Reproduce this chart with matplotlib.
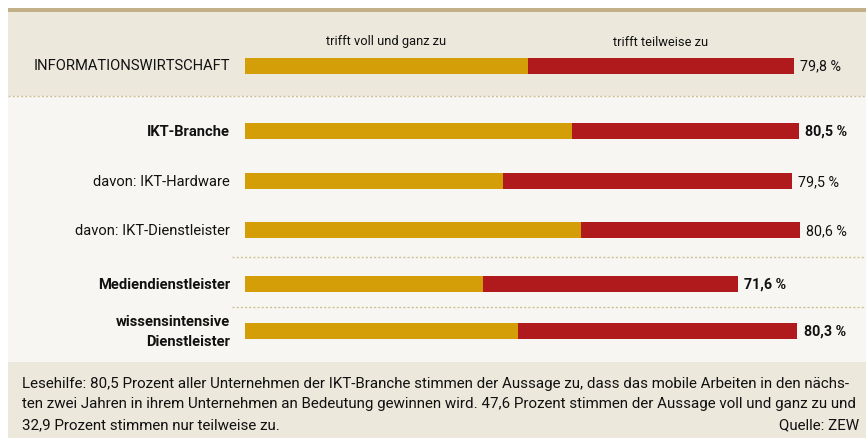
import matplotlib
matplotlib.use("Agg")
import matplotlib.pyplot as plt
from matplotlib.patches import Rectangle

plt.rcParams["font.family"] = ["Roboto", "DejaVu Sans"]

# data
CATEGORIES = [
    "INFORMATIONSWIRTSCHAFT",
    "IKT-Branche",
    "davon: IKT-Hardware",
    "davon: IKT-Dienstleister",
    "Mediendienstleister",
    "wissensintensive\nDienstleister",
]
VOLL = [41.1, 47.6, 37.5, 48.8, 34.6, 39.7]
TOTAL = [79.8, 80.5, 79.5, 80.6, 71.6, 80.3]
TEILWEISE = [round(t - v, 1) for t, v in zip(TOTAL, VOLL)]
WEIGHTS = ["normal", "bold", "normal", "normal", "bold", "bold"]
SERIES = ["trifft voll und ganz zu", "trifft teilweise zu"]
FOOTER = [
    "Lesehilfe: 80,5 Prozent aller Unternehmen der IKT-Branche stimmen der Aussage zu, dass das mobile Arbeiten in den nächs-",
    "ten zwei Jahren in ihrem Unternehmen an Bedeutung gewinnen wird. 47,6 Prozent stimmen der Aussage voll und ganz zu und",
    "32,9 Prozent stimmen nur teilweise zu.",
]
SOURCE = "Quelle: ZEW"

# layout (pixels)
W, H = 866, 439
ROW_Y = [66.5, 132, 182, 231, 285, 332]
BAR_H = 16
BAR_X0 = 245
PX_PER_PCT = 6.88

YELLOW = "#D49E09"
RED = "#B01A1C"
TAN = "#C2B188"
PANEL = "#ECE8DC"
LIGHT = "#F7F6F2"
DOTS = "#CFBF96"
TEXT = "#111111"

fig = plt.figure(figsize=(W / 100, H / 100), dpi=100)
fig.patch.set_facecolor("white")

bg = fig.add_axes([0, 0, 1, 1])
bg.set_xlim(0, W)
bg.set_ylim(H, 0)
bg.axis("off")

# panels
bg.add_patch(Rectangle((8, 13), W, 84, color=PANEL, lw=0))
bg.add_patch(Rectangle((8, 97), W, 266, color=LIGHT, lw=0))
bg.add_patch(Rectangle((8, 363), W, 80, color=PANEL, lw=0))
bg.add_patch(Rectangle((8, 9), W, 4, color=TAN, lw=0))

# dotted separators
bg.plot([8, W], [97, 97], color=DOTS, lw=1, ls=(0, (1.5, 1.5)))
bg.plot([232, W], [257.5, 257.5], color=DOTS, lw=1, ls=(0, (1.5, 1.5)))
bg.plot([232, W], [308, 308], color=DOTS, lw=1, ls=(0, (1.5, 1.5)))

# bars
ax = fig.add_axes([BAR_X0 / W, 0, (W - BAR_X0) / W, 1])
ax.set_xlim(0, (W - BAR_X0) / PX_PER_PCT)
ax.set_ylim(H, 0)
ax.axis("off")
ax.patch.set_alpha(0)

ax.barh(ROW_Y, VOLL, height=BAR_H, color=YELLOW, lw=0)
ax.barh(ROW_Y, TEILWEISE, left=VOLL, height=BAR_H, color=RED, lw=0)

for y, cat, tot, w in zip(ROW_Y, CATEGORIES, TOTAL, WEIGHTS):
    ax.text(tot + 0.9, y, f"{tot:.1f} %".replace(".", ","), ha="left", va="center",
            fontsize=10.3, fontweight=w, color=TEXT)
    bg.text(230, y, cat, ha="right", va="center", fontsize=10.6, fontweight=w,
            color=TEXT, linespacing=1.55)

# series headers above first bar
ax.text(VOLL[0] / 2, 42, SERIES[0], ha="center", va="center", fontsize=9.3, color=TEXT)
ax.text(VOLL[0] + TEILWEISE[0] / 2, 42, SERIES[1], ha="center", va="center",
        fontsize=9.3, color=TEXT)

# footer
for i, line in enumerate(FOOTER):
    bg.text(22, 384 + i * 20.5, line, ha="left", va="center", fontsize=10.9, color=TEXT)
bg.text(859, 425, SOURCE, ha="right", va="center", fontsize=10.9, color=TEXT)

fig.savefig("out.png", dpi=100)
